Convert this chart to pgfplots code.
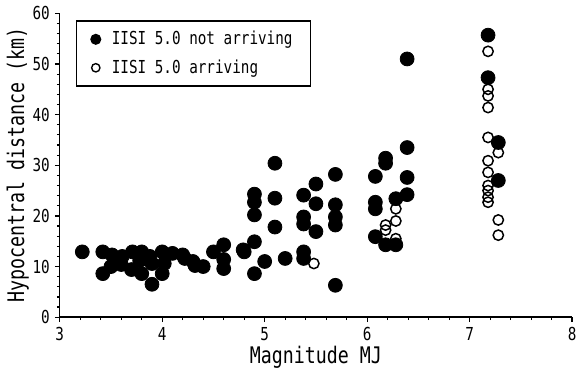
\documentclass[border=0pt]{standalone}
\usepackage{fontspec}
\setmainfont{DejaVu Sans Mono}[FakeStretch=0.8]
\usepackage{pgfplots}
\pgfplotsset{compat=1.18}
\begin{document}
\begin{tikzpicture}
\begin{axis}[
  scale only axis,
  width=258pt, height=153pt,
  xmin=3, xmax=8, ymin=0, ymax=60,
  axis lines*=left,
  axis line style={line width=0.75pt},
  tick align=outside,
  xtick={3,4,5,6,7,8}, ytick={0,10,20,30,40,50,60},
  minor x tick num=4, minor y tick num=4,
  major tick length=2.5pt, minor tick length=1.5pt,
  every tick/.style={black, line width=0.6pt},
  /pgf/number format/assume math mode=true,
  tick label style={font=\fontsize{9}{10}\selectfont},
  xticklabel style={yshift=1pt},
  yticklabel style={xshift=1pt},
  label style={font=\fontsize{11.5}{13}\selectfont},
  xlabel={Magnitude MJ},
  ylabel={Hypocentral distance (km)},
  xlabel style={yshift=4pt},
  ylabel style={yshift=-5pt},
  legend style={at={(0.031,0.977)}, anchor=north west, draw=black, line width=0.75pt,
    font=\fontsize{9}{10}\selectfont, row sep=2pt, inner xsep=7pt, inner ysep=3pt,
    legend cell align=left},
  clip=false,
]
\addplot[only marks, mark=*, mark size=3.5pt, mark options={fill=black, draw=black},
  legend image code/.code={\fill[black] (0.2cm,0cm) circle[radius=2.4pt]; \path (0.4cm,0cm);}] coordinates {
(3.22,12.9)(3.42,12.9)(3.42,8.6)(3.51,12.3)(3.5,10.0)(3.61,12.0)(3.6,10.4)
(3.71,12.9)(3.7,9.4)(3.8,12.9)(3.8,8.6)(3.78,11.2)(3.9,6.5)(3.9,10.6)(3.88,12.0)
(4.0,12.9)(4.0,8.6)(4.02,10.6)(4.1,12.6)(4.2,12.3)(4.22,11.6)(4.3,11.0)(4.32,10.2)
(4.4,10.0)(4.5,12.9)(4.6,14.3)(4.6,11.4)(4.6,9.6)(4.79,13.3)
(4.8,12.9)(4.9,24.3)(4.9,22.7)(4.9,20.2)(4.9,14.9)(4.9,8.6)(5.0,11.0)
(5.1,30.4)(5.1,23.5)(5.1,17.8)(5.2,11.6)
(5.38,24.1)(5.38,19.8)(5.38,18.4)(5.38,12.9)(5.38,11.6)
(5.5,26.3)(5.5,22.4)(5.5,16.9)
(5.69,28.2)(5.69,22.2)(5.69,19.8)(5.69,18.2)(5.69,6.3)
(6.08,27.8)(6.08,22.7)(6.08,21.4)(6.08,15.9)
(6.18,31.4)(6.18,30.4)(6.18,14.3)
(6.28,23.4)(6.28,14.3)
(6.39,51.0)(6.39,33.5)(6.39,27.6)(6.39,24.2)
(7.18,55.7)(7.18,47.3)(7.28,34.5)(7.28,27.0)
};
\addlegendentry{IISI 5.0 not arriving}
\addplot[only marks, mark=o, mark size=2.6pt, mark options={draw=black, line width=0.75pt, fill=white},
  legend image code/.code={\draw[black, line width=0.7pt, fill=white] (0.2cm,0cm) circle[radius=2.1pt]; \path (0.4cm,0cm);}] coordinates {
(5.48,10.6)
(6.28,21.4)(6.28,19.0)(6.18,18.2)(6.18,17.2)(6.28,15.5)
(7.18,52.5)(7.18,45.0)(7.18,43.7)(7.18,41.4)(7.18,35.5)(7.28,32.5)
(7.18,30.9)(7.18,28.6)(7.18,26.0)(7.18,25.0)(7.18,23.7)(7.18,22.7)
(7.28,19.2)(7.28,16.2)
};
\addlegendentry{IISI 5.0 arriving}
\end{axis}
\end{tikzpicture}
\end{document}
